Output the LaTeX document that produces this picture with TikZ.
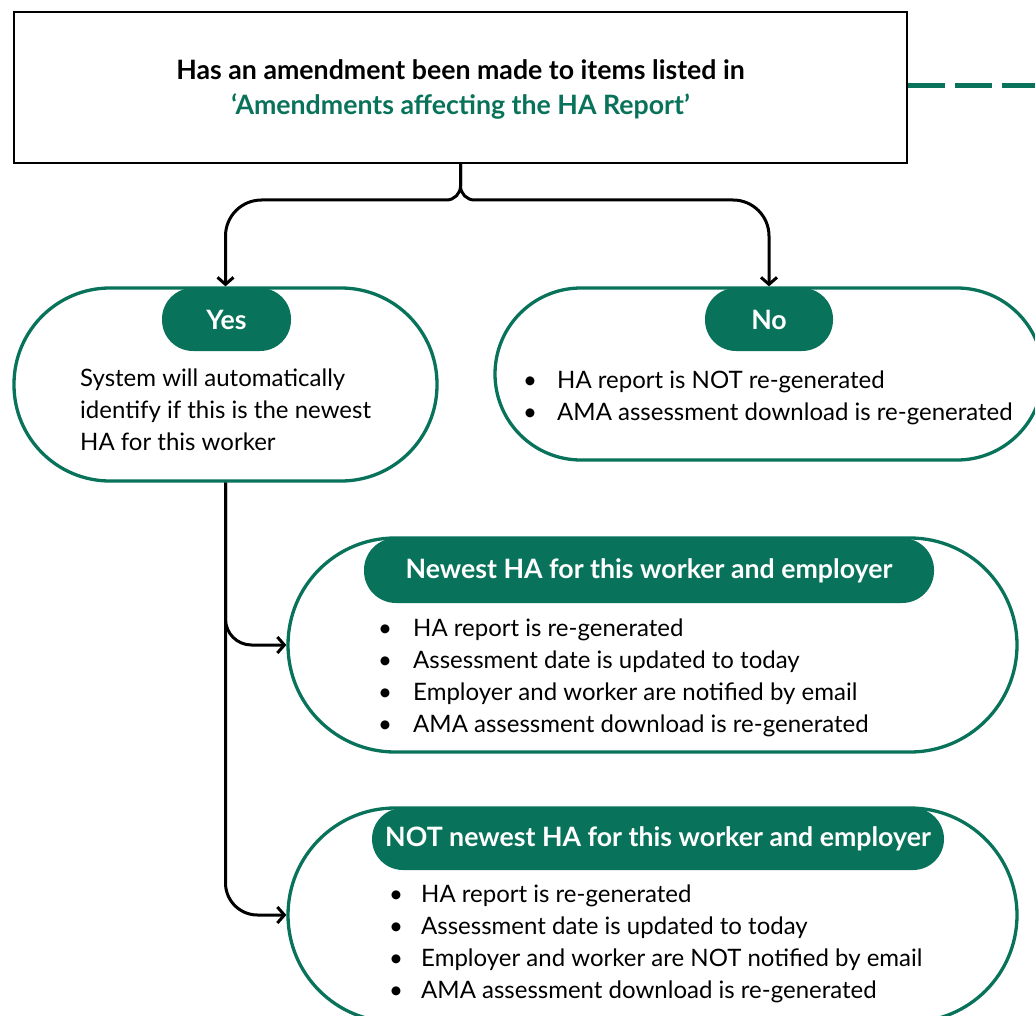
\documentclass[tikz,border=0pt]{standalone}
\usepackage{fontspec}
\setmainfont{Lato}
\usetikzlibrary{arrows.meta,calc}
\definecolor{hagreen}{HTML}{08735A}
\tikzset{
  qbox/.style={draw=black, line width=2.5pt, fill=white, inner sep=0pt},
  stadium/.style={draw=hagreen, line width=3.3pt, fill=white, inner sep=0pt},
  pill/.style={fill=hagreen, text=white, inner sep=0pt, font=\bfseries\fontsize{26.7}{32}\selectfont},
  conn/.style={draw=black, line width=3pt},
  arr/.style={-{Straight Barb[length=7pt,width=16pt,line width=3pt]}},
  body/.style={anchor=base west, inner sep=0pt, font=\fontsize{24}{32}\selectfont, align=left},
  bul/.style={anchor=base, inner sep=0pt, font=\fontsize{24}{32}\selectfont},
  dashg/.style={draw=hagreen, line width=5pt, dash pattern=on 37pt off 10pt}
}
\begin{document}
\begin{tikzpicture}[x=1pt,y=-1pt]
\useasboundingbox (0,0) rectangle (1035,1016);
\clip (0,0) rectangle (1035,1016);

% top question box
\node[qbox, minimum width=893pt, minimum height=151pt] (q) at (460.5,87.5) {};
\node[anchor=base, inner sep=0pt, font=\bfseries\fontsize{26.7}{35}\selectfont] (qt1) at (460.5,80) {Has an amendment been made to items listed in};
\node[anchor=base, inner sep=0pt, text=hagreen, font=\bfseries\fontsize{26.7}{35}\selectfont] (qt2) at (460.5,115) {‘Amendments affecting the HA Report’};
\coordinate (dashend) at (1045,86);
\draw[dashg] (q.east |- dashend) -- (dashend);

% yes box
\node[stadium, rounded corners=96pt, minimum width=423pt, minimum height=193pt] (yes) at (225.5,384.5) {};
\node[pill, rounded corners=31pt, minimum width=129pt, minimum height=63pt] (yesp) at (226.5,319.5) {Yes};
\node[body] (yest) at (80,450) {System will automatically\\identify if this is the newest\\HA for this worker};

% no box
\node[stadium, rounded corners=86pt, minimum width=548pt, minimum height=172pt] (no) at (769,374) {};
\node[pill, rounded corners=31pt, minimum width=128pt, minimum height=63pt] (nop) at (769,319.5) {No};
\node[bul] (nob1) at (530,388) {•};
\node[body] (not1) at (557,388) {HA report is NOT re-generated};
\node[bul] (nob2) at (530,420) {•};
\node[body] (not2) at (557,420) {AMA assessment download is re-generated};

% newest box
\node[stadium, rounded corners=107pt, minimum width=729pt, minimum height=214pt] (n1) at (652.5,645) {};
\node[pill, rounded corners=32pt, minimum width=570pt, minimum height=65pt] (n1p) at (649,570.5) {Newest HA for this worker and employer};
\foreach \i/\t in {0/HA report is re-generated,1/Assessment date is updated to today,2/Employer and worker are notified by email,3/AMA assessment download is re-generated}{
  \node[bul] (n1b\i) at (385,636+32*\i) {•};
  \node[body] (n1t\i) at (413,636+32*\i) {\t};
}

% not newest box
\node[stadium, rounded corners=107pt, minimum width=729pt, minimum height=214pt] (n2) at (652.5,915) {};
\node[pill, rounded corners=31pt, minimum width=572pt, minimum height=62pt] (n2p) at (658,839) {NOT newest HA for this worker and employer};
\foreach \i/\t in {0/HA report is re-generated,1/Assessment date is updated to today,2/Employer and worker are NOT notified by email,3/AMA assessment download is re-generated}{
  \node[bul] (n2b\i) at (396,902+32*\i) {•};
  \node[body] (n2t\i) at (421,902+32*\i) {\t};
}

% connectors
\coordinate (jl) at (400,200);
\coordinate (jr) at (520,200);
\draw[conn, rounded corners=14pt] (q.south) |- (jl);
\draw[conn, rounded corners=14pt] (q.south) |- (jr);
\draw[conn, arr, rounded corners=36pt] (jl) -| (yes.north);
\draw[conn, arr, rounded corners=36pt] (jr) -| (no.north);
\draw[conn, arr, rounded corners=26pt] (yes.south) |- (n1.west);
\draw[conn, arr, rounded corners=32pt] (yes.south) |- (n2.west);
\end{tikzpicture}
\end{document}
